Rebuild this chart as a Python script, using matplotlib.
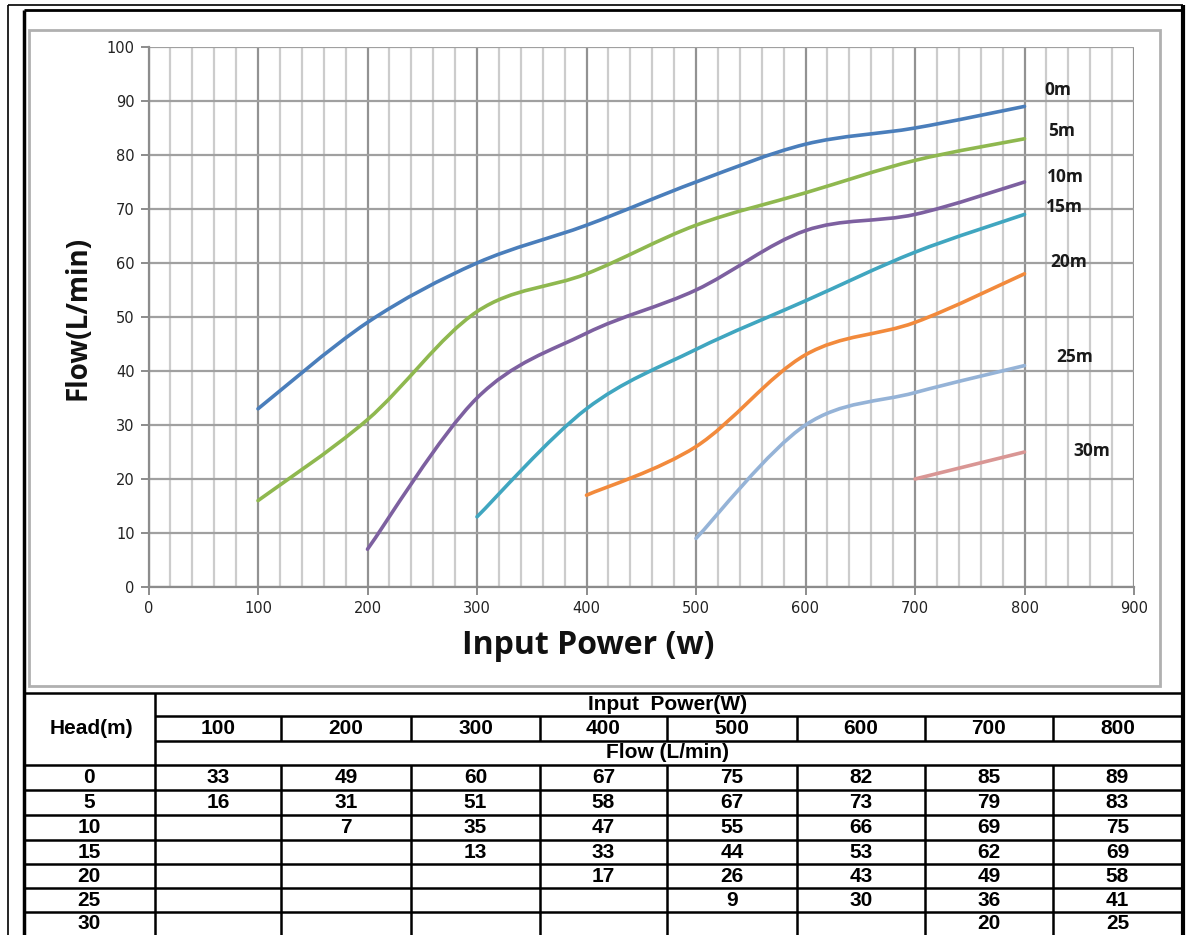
import matplotlib
matplotlib.use("Agg")
import matplotlib.pyplot as plt
import matplotlib.patches as patches
from matplotlib.path import Path
from matplotlib.ticker import MultipleLocator

# data
power = [100, 200, 300, 400, 500, 600, 700, 800]
heads = ["0", "5", "10", "15", "20", "25", "30"]
flow_0 = [33, 49, 60, 67, 75, 82, 85, 89]
flow_5 = [16, 31, 51, 58, 67, 73, 79, 83]
flow_10 = [None, 7, 35, 47, 55, 66, 69, 75]
flow_15 = [None, None, 13, 33, 44, 53, 62, 69]
flow_20 = [None, None, None, 17, 26, 43, 49, 58]
flow_25 = [None, None, None, None, 9, 30, 36, 41]
flow_30 = [None, None, None, None, None, None, 20, 25]
series = [flow_0, flow_5, flow_10, flow_15, flow_20, flow_25, flow_30]

colors = ["#4a7ebb", "#8fb84f", "#7d60a0", "#40a6c0", "#f28a3c", "#95b3d7", "#d99694"]
# where the "0m", "5m" ... labels sit (data coords)
label_pos = [(830, 92), (834, 84.4), (837, 76), (836, 70.4), (840, 60.2), (846, 42.6), (861, 25.2)]

W, H = 1202, 935
fig = plt.figure(figsize=(W / 100, H / 100), dpi=100)

# page / frame / table drawn in pixel coordinates
page = fig.add_axes([0, 0, 1, 1])
page.set_xlim(0, W)
page.set_ylim(H, 0)
page.set_axis_off()


def hline(y, x0, x1, lw=1.8, c="black"):
    page.plot([x0, x1], [y, y], color=c, lw=lw, solid_capstyle="butt")


def vline(x, y0, y1, lw=1.8, c="black"):
    page.plot([x, x], [y0, y1], color=c, lw=lw, solid_capstyle="butt")


# outer page lines
vline(8, 5, H, lw=1.2)
vline(24, 10, H, lw=2.5)
vline(1183, 5, H, lw=3)
hline(5, 8, 1183, lw=1.2)
hline(10, 24, 1183, lw=2)
# chart area border
page.add_patch(patches.Rectangle((29, 30), 1131, 656, fill=False, edgecolor="#b0b0b0", lw=2))

# table
col_edges = [155, 281, 411, 540, 667, 797, 925, 1053, 1182]
row_edges = [765, 790, 815, 840, 864, 888, 912, 935]
hline(693, 24, 1182)
hline(716, 155, 1182)
hline(741, 155, 1182)
for y in row_edges[:-1]:
    hline(y, 24, 1182)
vline(155, 693, H)
for x in col_edges[1:-1]:
    vline(x, 716, 741)
    vline(x, 765, H)

tfont = dict(family="Liberation Sans", fontweight="bold", fontsize=15, ha="center", va="center")
page.text(91, 729, "Head(m)", **tfont)
page.text(668, 704, "Input  Power(W)", **tfont)
page.text(668, 753, "Flow (L/min)", **tfont)
for j, p in enumerate(power):
    cx = (col_edges[j] + col_edges[j + 1]) / 2
    page.text(cx, 729, str(p), **tfont)
for i, h in enumerate(heads):
    cy = (row_edges[i] + row_edges[i + 1]) / 2
    page.text(89, cy, h, **tfont)
    for j, v in enumerate(series[i]):
        if v is not None:
            cx = (col_edges[j] + col_edges[j + 1]) / 2
            page.text(cx, cy, str(v), **tfont)

# chart
ax = fig.add_axes([148.5 / W, 1 - 587 / H, (1134 - 148.5) / W, (587 - 47) / H])
ax.set_xlim(0, 900)
ax.set_ylim(0, 100)
ax.xaxis.set_major_locator(MultipleLocator(100))
ax.xaxis.set_minor_locator(MultipleLocator(20))
ax.yaxis.set_major_locator(MultipleLocator(10))
ax.grid(which="minor", axis="x", color="#cccccc", lw=1.6)
ax.grid(which="major", axis="x", color="#929292", lw=1.6)
ax.grid(which="major", axis="y", color="#a0a0a0", lw=1.6)
ax.set_axisbelow(True)
for s in ["top", "right"]:
    ax.spines[s].set_visible(False)
for s in ["left", "bottom"]:
    ax.spines[s].set_color("#8c8c8c")
    ax.spines[s].set_linewidth(1.6)
ax.tick_params(which="major", direction="out", length=6, width=1.4, color="#8c8c8c",
               labelsize=10.5, labelcolor="#222222", pad=4)
ax.tick_params(which="minor", length=0)
for lab in ax.get_xticklabels() + ax.get_yticklabels():
    lab.set_family("DejaVu Sans")


def smooth_path(xs, ys):
    # Excel-style smoothed line: cubic Bezier through every point
    pts = list(zip(xs, ys))
    verts = [pts[0]]
    codes = [Path.MOVETO]
    n = len(pts)
    for i in range(n - 1):
        p0 = pts[max(i - 1, 0)]
        p1 = pts[i]
        p2 = pts[i + 1]
        p3 = pts[min(i + 2, n - 1)]
        c1 = (p1[0] + (p2[0] - p0[0]) / 6, p1[1] + (p2[1] - p0[1]) / 6)
        c2 = (p2[0] - (p3[0] - p1[0]) / 6, p2[1] - (p3[1] - p1[1]) / 6)
        verts += [c1, c2, p2]
        codes += [Path.CURVE4] * 3
    return Path(verts, codes)


for i, vals in enumerate(series):
    xs = [p for p, v in zip(power, vals) if v is not None]
    ys = [v for v in vals if v is not None]
    ax.add_patch(patches.PathPatch(smooth_path(xs, ys), fill=False, edgecolor=colors[i],
                                   lw=2.6, capstyle="round", joinstyle="round", zorder=3))
    lx, ly = label_pos[i]
    ax.text(lx, ly, heads[i] + "m", family="Open Sans", fontweight="bold", fontsize=12.5,
            color="#1a1a1a", ha="center", va="center", zorder=4)

fig.text(588 / W, 1 - 645 / H, "Input Power (w)", family="Open Sans", fontweight="bold",
         fontsize=23, ha="center", va="center", color="#111111")
fig.text(78 / W, 1 - 318 / H, "Flow(L/min)", family="Open Sans", fontweight="bold",
         fontsize=20, ha="center", va="center", rotation=90, color="#111111")

fig.savefig("out.png", dpi=100)
